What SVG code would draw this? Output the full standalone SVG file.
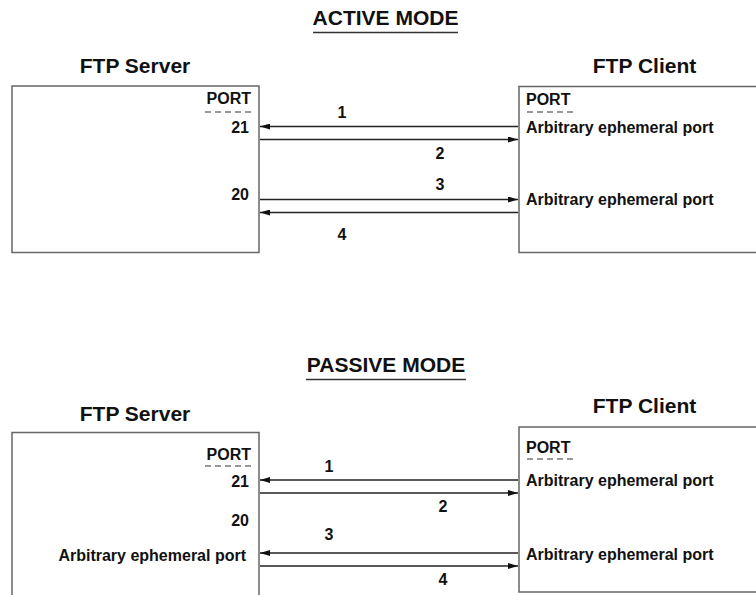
<svg xmlns="http://www.w3.org/2000/svg" width="756" height="595" viewBox="0 0 756 595">
<defs>
<marker id="ah" viewBox="0 0 10 6" refX="10" refY="3" markerWidth="10" markerHeight="6" markerUnits="userSpaceOnUse" orient="auto">
<path d="M0,0 L10,3 L0,6 Z" fill="#111"/>
</marker>
<style>
text{font-family:"Liberation Sans",Arial,sans-serif;font-weight:bold;fill:#111}
.title{font-size:21px;text-anchor:middle}
.head{font-size:21px;text-anchor:middle}
.lbl{font-size:16px}
.end{text-anchor:end}
.mid{text-anchor:middle}
.box{fill:#fff;stroke:#666;stroke-width:1.5}
.dash{stroke:#333;stroke-width:1.2;stroke-dasharray:6,4}
.ul{stroke:#333;stroke-width:1.5}
.conn line{stroke:#222;stroke-width:1.3}
</style>
</defs>
<rect width="756" height="595" fill="#fff"/>

<!-- ACTIVE MODE -->
<g id="active-title">
<text class="title" x="385.5" y="25">ACTIVE MODE</text>
<line class="ul" x1="313" y1="32.5" x2="458" y2="32.5"/>
</g>
<g id="active-server">
<text class="head" x="135" y="73">FTP Server</text>
<rect class="box" x="12" y="86" width="247" height="166.5"/>
<text class="lbl end" x="251" y="104">PORT</text>
<line class="dash" x1="205" y1="112" x2="251" y2="112"/>
<text class="lbl end" x="249" y="132.5">21</text>
<text class="lbl end" x="249" y="200">20</text>
</g>
<g id="active-client">
<text class="head" x="644.5" y="73">FTP Client</text>
<rect class="box" x="519" y="86.5" width="245" height="166"/>
<text class="lbl" x="526" y="104.5">PORT</text>
<line class="dash" x1="527" y1="112" x2="573" y2="112"/>
<text class="lbl" x="526" y="132.5">Arbitrary ephemeral port</text>
<text class="lbl" x="526" y="204.5">Arbitrary ephemeral port</text>
</g>
<g id="active-connectors" class="conn">
<line x1="518" y1="126.5" x2="260" y2="126.5" marker-end="url(#ah)"/>
<line x1="260" y1="139.5" x2="518" y2="139.5" marker-end="url(#ah)"/>
<line x1="260" y1="199.5" x2="518" y2="199.5" marker-end="url(#ah)"/>
<line x1="518" y1="212.5" x2="260" y2="212.5" marker-end="url(#ah)"/>
<text class="lbl mid" x="342" y="118">1</text>
<text class="lbl mid" x="440" y="159">2</text>
<text class="lbl mid" x="440" y="190">3</text>
<text class="lbl mid" x="342" y="240">4</text>
</g>

<!-- PASSIVE MODE -->
<g id="passive-title">
<text class="title" x="386" y="372">PASSIVE MODE</text>
<line class="ul" x1="306" y1="379.5" x2="466" y2="379.5"/>
</g>
<g id="passive-server">
<text class="head" x="135" y="420.5">FTP Server</text>
<rect class="box" x="12" y="432.5" width="247" height="175"/>
<text class="lbl end" x="251" y="460">PORT</text>
<line class="dash" x1="205" y1="466" x2="251" y2="466"/>
<text class="lbl end" x="249" y="486.5">21</text>
<text class="lbl end" x="249" y="526">20</text>
<text class="lbl end" x="246" y="560.5">Arbitrary ephemeral port</text>
</g>
<g id="passive-client">
<text class="head" x="644.5" y="412.5">FTP Client</text>
<rect class="box" x="519" y="427" width="245" height="165"/>
<text class="lbl" x="526" y="453">PORT</text>
<line class="dash" x1="527" y1="459" x2="573" y2="459"/>
<text class="lbl" x="526" y="486">Arbitrary ephemeral port</text>
<text class="lbl" x="526" y="560">Arbitrary ephemeral port</text>
</g>
<g id="passive-connectors" class="conn">
<line x1="518" y1="480" x2="260" y2="480" marker-end="url(#ah)"/>
<line x1="260" y1="493" x2="518" y2="493" marker-end="url(#ah)"/>
<line x1="518" y1="553" x2="260" y2="553" marker-end="url(#ah)"/>
<line x1="260" y1="566" x2="518" y2="566" marker-end="url(#ah)"/>
<text class="lbl mid" x="329" y="472">1</text>
<text class="lbl mid" x="443" y="512">2</text>
<text class="lbl mid" x="329" y="540">3</text>
<text class="lbl mid" x="443" y="585">4</text>
</g>
</svg>
